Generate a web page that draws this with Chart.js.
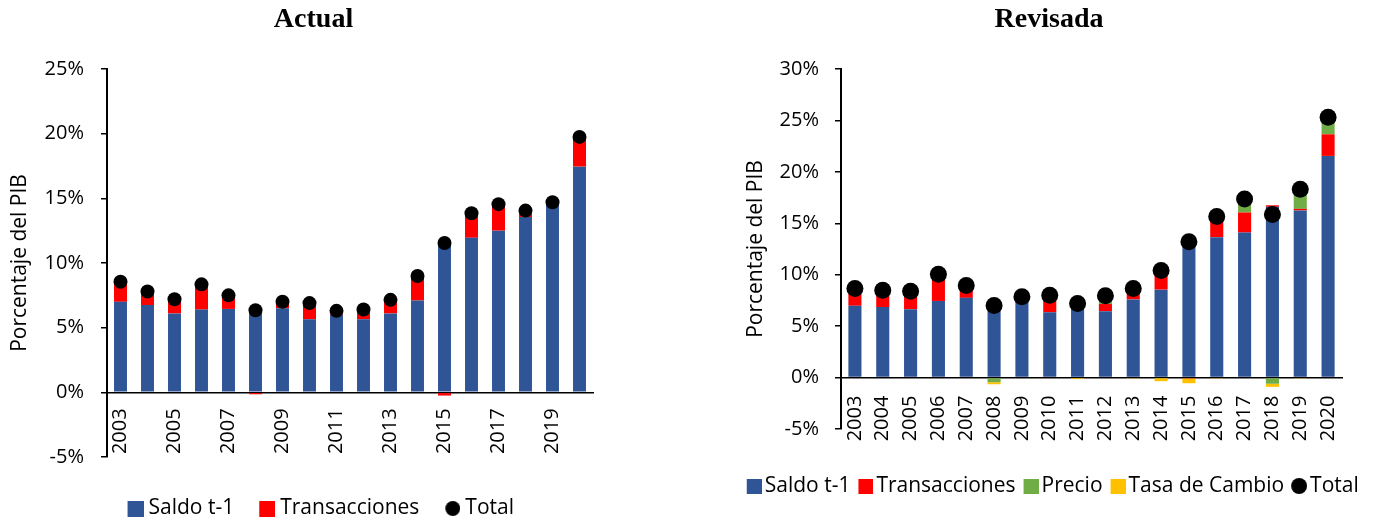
<!DOCTYPE html>
<html>
<head>
<meta charset="utf-8">
<script src="https://cdn.jsdelivr.net/npm/chart.js@4.4.1/dist/chart.umd.min.js"></script>
<style>
html,body{margin:0;padding:0;background:#fff;overflow:hidden;width:1377px;height:523px;}
#wa{position:absolute;left:0;top:0;width:627px;height:529px;}
#wb{position:absolute;left:721px;top:0;width:656px;height:523px;}
</style>
</head>
<body>
<div id="wa"><canvas id="ca"></canvas></div>
<div id="wb"><canvas id="cb"></canvas></div>
<script>
// ---- data (percent of GDP) ----
const years = ['2003','2004','2005','2006','2007','2008','2009','2010','2011','2012','2013','2014','2015','2016','2017','2018','2019','2020'];

// Actual
const saldoActual = [7.0, 6.75, 6.1, 6.4, 6.45, 6.35, 6.5, 5.65, 6.0, 5.65, 6.1, 7.1, 11.6, 11.95, 12.5, 13.55, 14.5, 17.45];
const transActual = [1.5, 1.0, 1.1, 1.95, 1.05, -0.15, 0.4, 1.2, 0.3, 0.75, 1.0, 1.9, -0.25, 1.85, 2.0, 0.5, 0.2, 2.3];
const totalActual = [8.55, 7.8, 7.2, 8.35, 7.5, 6.35, 7.0, 6.9, 6.3, 6.4, 7.15, 9.0, 11.55, 13.85, 14.55, 14.05, 14.7, 19.75];

// Revisada
const saldoRev  = [6.98, 6.85, 6.65, 7.45, 7.75, 6.9, 7.5, 6.35, 6.9, 6.45, 7.6, 8.55, 12.8, 13.65, 14.1, 16.6, 16.25, 21.55];
const transRev  = [1.2, 1.2, 1.25, 2.3, 0.9, 0, 0.2, 1.4, 0.1, 0.7, 0.6, 1.5, -0.1, 1.7, 1.95, 0.15, 0.15, 2.1];
const precioRev = [0, 0, 0.1, 0, 0, -0.45, 0, 0, 0, 0.25, 0, 0, 0, 0, 0.9, -0.6, 1.6, 1.5];
const tasaRev   = [0, 0, 0, 0, 0, -0.2, 0, 0, -0.15, 0, -0.1, -0.35, -0.45, -0.1, 0, -0.3, -0.1, 0];
const totalRev  = [8.65, 8.5, 8.4, 10.05, 8.95, 7.0, 7.85, 8.0, 7.2, 7.95, 8.65, 10.4, 13.2, 15.65, 17.35, 15.85, 18.3, 25.3];

const ticksActual = {min: -5, max: 25, step: 5};
const ticksRev = {min: -5, max: 30, step: 5};

// ---- styling ----
const BLUE = '#2F5597', RED = '#FF0000', GREEN = '#70AD47', YELLOW = '#FFC000', BLACK = '#000000';
const SANS = "'Open Sans', 'Liberation Sans', sans-serif";
const SERIF = "'Liberation Serif', 'Times New Roman', serif";

// legend swatch images: coloured mark sits at the right end of a transparent strip
function swatch(color, w, box) {
  const c = document.createElement('canvas'); c.width = w; c.height = box;
  const g = c.getContext('2d'); g.fillStyle = color; g.fillRect(w - box, 0, box, box); return c;
}
function dotImg(w, d) {
  const c = document.createElement('canvas'); c.width = w; c.height = d;
  const g = c.getContext('2d'); g.fillStyle = BLACK; g.beginPath();
  g.arc(w - d / 2, d / 2, d / 2, 0, Math.PI * 2); g.fill(); return c;
}

function makeChart(id, cfg) {
  const datasets = cfg.bars.map(b => ({
    type: 'bar', label: b.label, data: b.data, backgroundColor: b.color,
    borderWidth: 0, barPercentage: cfg.barPct, categoryPercentage: 1.0, stack: 's', order: 0,
    xAxisID: 'x', yAxisID: 'y'
  }));
  datasets.push({
    type: 'line', label: 'Total', data: cfg.total, showLine: false,
    pointRadius: cfg.dotR, pointHoverRadius: cfg.dotR, pointBackgroundColor: BLACK,
    pointBorderWidth: 0, borderColor: BLACK, backgroundColor: BLACK, stack: 'tot', order: -1,
    xAxisID: 'x', yAxisID: 'y'
  });
  const imgs = cfg.bars.map(b => swatch(b.color, cfg.imgW, cfg.box)).concat([dotImg(cfg.imgW, cfg.dotD)]);

  return new Chart(document.getElementById(id), {
    data: {labels: years, datasets},
    options: {
      responsive: true, maintainAspectRatio: false, animation: false,
      layout: {padding: {left: 0, right: 0, top: 0, bottom: cfg.padBottom}},
      plugins: {
        tooltip: {enabled: false},
        title: {
          display: true, text: cfg.title, color: BLACK,
          font: {family: SERIF, size: 28, weight: 'bold'},
          padding: {top: 3, bottom: 32.4}
        },
        legend: {
          display: true, position: 'bottom',
          labels: {
            usePointStyle: true, pointStyleWidth: cfg.psw, boxHeight: 15,
            padding: cfg.legPad, color: BLACK,
            font: {family: SANS, size: 21},
            generateLabels: (chart) => chart.data.datasets.map((ds, i) => ({
              text: ds.label, pointStyle: imgs[i], fillStyle: ds.backgroundColor,
              strokeStyle: 'transparent', lineWidth: 0, hidden: false,
              datasetIndex: i, fontColor: BLACK
            }))
          }
        }
      },
      scales: {
        x: {
          stacked: true, position: {y: 0},
          grid: {display: true, drawOnChartArea: false, drawTicks: true, tickLength: cfg.xTick,
                 color: 'rgba(0,0,0,0)'},
          border: {display: true, color: BLACK, width: 1.5},
          ticks: {
            autoSkip: false, minRotation: 90, maxRotation: 90, padding: 0, color: BLACK,
            font: {family: SANS, size: 20},
            callback: function (v, i) { return (i % cfg.every === 0) ? years[i] : ''; }
          }
        },
        xb: {
          type: 'category', position: 'bottom', display: true,
          grid: {display: false}, border: {display: false}, ticks: {display: false},
          afterFit: s => { s.height = cfg.xH; }
        },
        y: {
          stacked: true, position: 'left',
          min: cfg.ticks.min, max: cfg.ticks.max,
          grid: {drawOnChartArea: false, drawTicks: true, tickLength: 6, color: BLACK, lineWidth: 1.5},
          border: {display: true, color: BLACK, width: 2},
          ticks: {stepSize: cfg.ticks.step, padding: cfg.yPad, color: BLACK,
            font: {family: SANS, size: 20}, callback: v => v + '%'},
          title: {display: true, text: 'Porcentaje del PIB', color: BLACK,
            font: {family: SANS, size: 21}, padding: {top: cfg.titlePad, bottom: 0}},
          afterFit: s => { s.width = cfg.yW; }
        },
        yr: {
          position: 'right', display: true,
          grid: {display: false}, border: {display: false}, ticks: {display: false},
          afterFit: s => { s.width = cfg.rW; }
        }
      }
    }
  });
}

makeChart('ca', {
  title: 'Actual',
  bars: [{label: 'Saldo t-1', data: saldoActual, color: BLUE},
         {label: 'Transacciones', data: transActual, color: RED}],
  total: totalActual, ticks: ticksActual,
  barPct: 0.48, dotR: 7, dotD: 15, box: 16, psw: 25, imgW: 36, legPad: 10.5,
  padBottom: 0, xH: 30.5, xTick: 16, yPad: 17, yW: 107, rW: 34, titlePad: 7, every: 2
});

makeChart('cb', {
  title: 'Revisada',
  bars: [{label: 'Saldo t-1', data: saldoRev, color: BLUE},
         {label: 'Transacciones', data: transRev, color: RED},
         {label: 'Precio', data: precioRev, color: GREEN},
         {label: 'Tasa de Cambio', data: tasaRev, color: YELLOW}],
  total: totalRev, ticks: ticksRev,
  barPct: 0.47, dotR: 8.5, dotD: 16, box: 15, psw: 15, imgW: 30, legPad: 0.5,
  padBottom: 16.5, xH: 46, xTick: 18, yPad: 16, yW: 120, rW: 35, titlePad: 22, every: 1
});
</script>
</body>
</html>
